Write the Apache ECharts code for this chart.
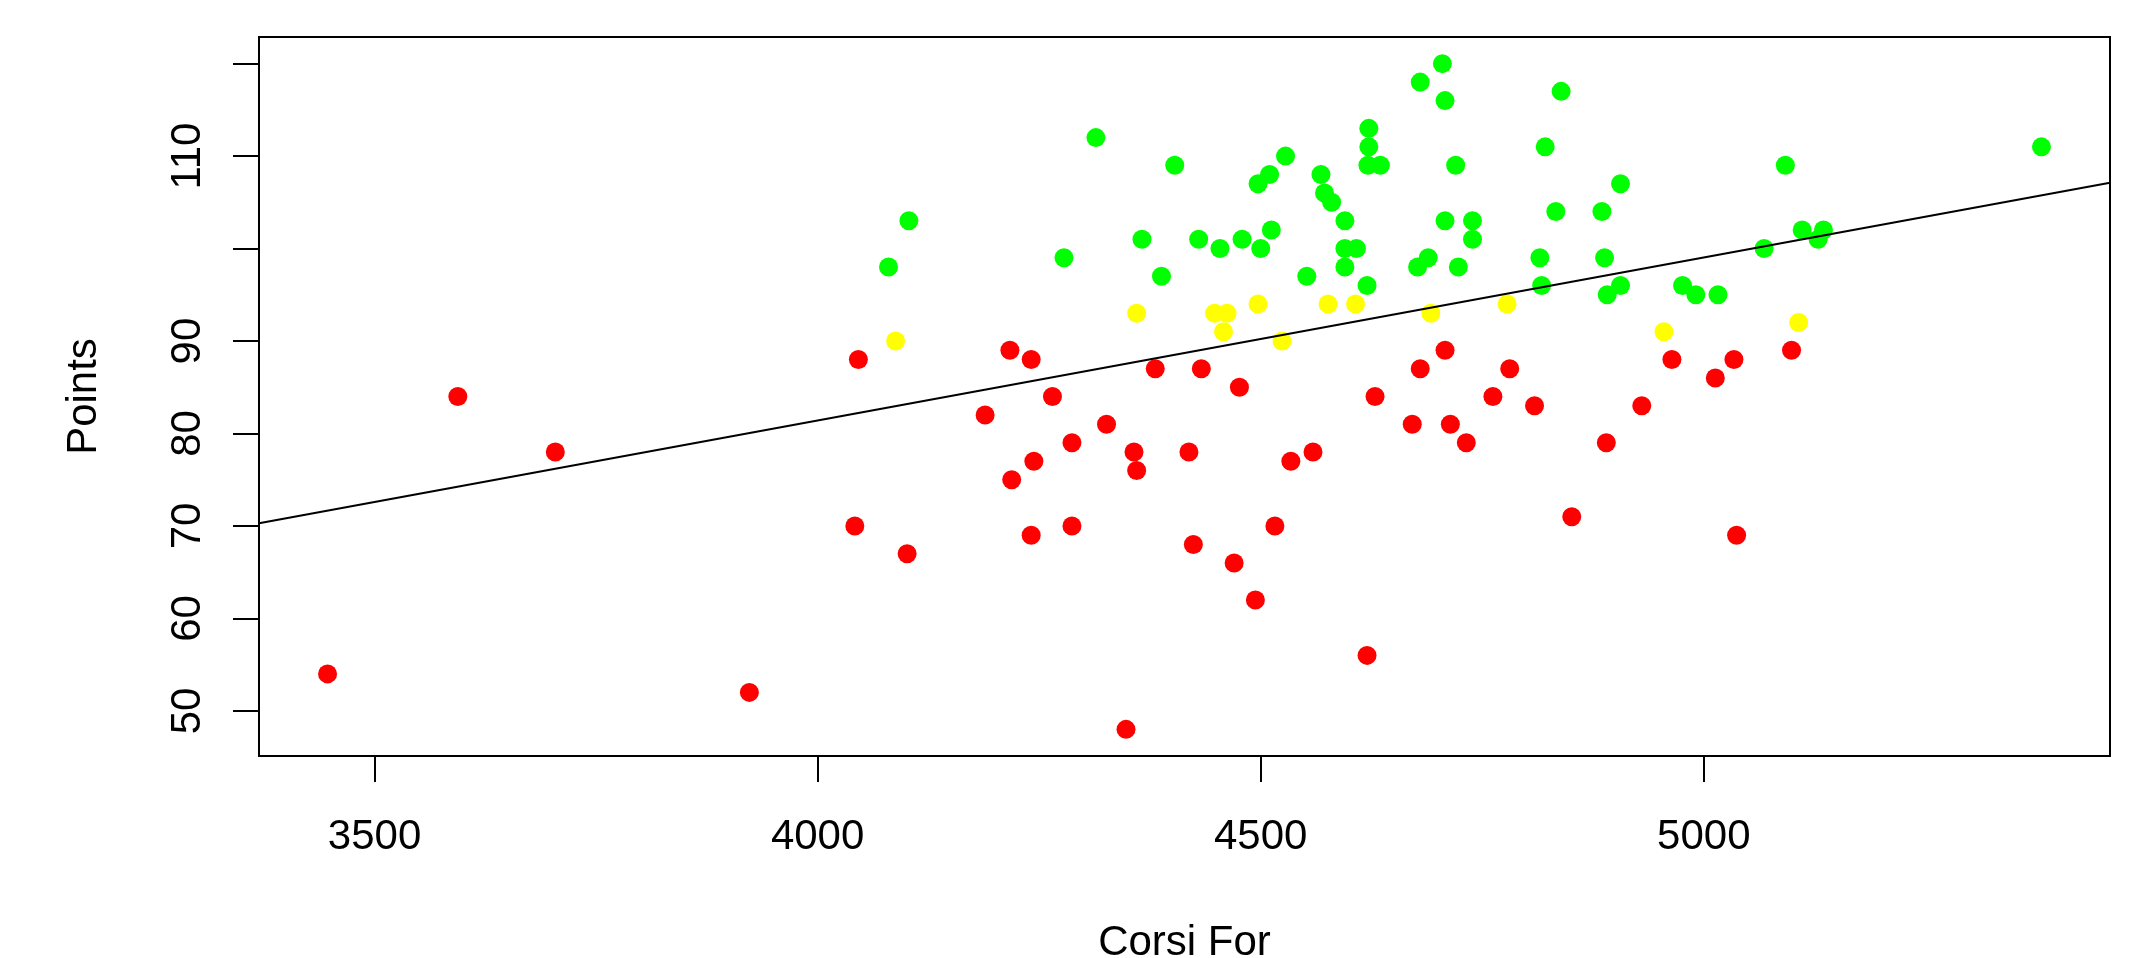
<!DOCTYPE html>
<html>
<head>
<meta charset="utf-8">
<script src="https://cdn.jsdelivr.net/npm/echarts@6/dist/echarts.min.js"></script>
<style>
html,body{margin:0;padding:0;background:#fff;}
#chart{width:2143px;height:958px;}
</style>
</head>
<body>
<div id="chart"></div>
<script>
// Corsi For (x) vs Points (y), grouped by points band
const redPoints = [
  [3447,54],[3594,84],[3704,78],[3923,52],[4046,88],[4042,70],[4101,67],[4189,82],
  [4217,89],[4241,88],[4219,75],[4244,77],[4241,69],[4265,84],[4287,79],[4287,70],
  [4326,81],[4348,48],[4357,78],[4360,76],[4381,87],[4419,78],[4424,68],[4433,87],
  [4470,66],[4476,85],[4494,62],[4516,70],[4534,77],[4559,78],[4620,56],[4629,84],
  [4671,81],[4680,87],[4708,89],[4714,81],[4732,79],[4762,84],[4781,87],[4809,83],
  [4851,71],[4890,79],[4930,83],[4964,88],[5013,86],[5034,88],[5037,69],[5099,89]
];
const yellowPoints = [
  [4088,90],[4360,93],[4448,93],[4462,93],[4458,91],[4497,94],[4524,90],[4576,94],
  [4607,94],[4692,93],[4778,94],[4955,91],[5107,92]
];
const greenPoints = [
  [4080,98],[4103,103],[4278,99],[4314,112],[4366,101],[4388,97],[4403,109],[4430,101],
  [4454,100],[4479,101],[4497,107],[4500,100],[4510,108],[4512,102],[4528,110],[4552,97],
  [4568,108],[4572,106],[4580,105],[4595,103],[4595,100],[4608,100],[4595,98],[4620,96],
  [4621,109],[4622,111],[4622,113],[4635,109],[4677,98],[4680,118],[4689,99],[4705,120],
  [4708,116],[4708,103],[4720,109],[4723,98],[4739,103],[4739,101],[4815,99],[4817,96],
  [4821,111],[4833,104],[4839,117],[4885,104],[4888,99],[4891,95],[4906,107],[4906,96],
  [4976,96],[4991,95],[5016,95],[5068,100],[5092,109],[5111,102],[5129,101],[5135,102],
  [5381,111]
];
const xTicks = [3500, 4000, 4500, 5000];
const yTicks = [50, 60, 70, 80, 90, 100, 110, 120];
const yTickLabels = [50, 60, 70, 80, 90, 110];
const xTitle = 'Corsi For';
const yTitle = 'Points';

// R-style axis ranges: data range extended by 4% on each side
const allPts = redPoints.concat(yellowPoints, greenPoints);
const xs = allPts.map(p => p[0]);
const ys = allPts.map(p => p[1]);
function padRange(arr) {
  const lo = Math.min.apply(null, arr), hi = Math.max.apply(null, arr);
  const r = hi - lo;
  return [lo - 0.04 * r, hi + 0.04 * r];
}
const [xMin, xMax] = padRange(xs);
const [yMin, yMax] = padRange(ys);

// least-squares fit (abline(lm(Points ~ CorsiFor)))
const n = allPts.length;
const mx = xs.reduce((a, b) => a + b, 0) / n;
const my = ys.reduce((a, b) => a + b, 0) / n;
let sxy = 0, sxx = 0;
for (let i = 0; i < n; i++) { sxy += (xs[i] - mx) * (ys[i] - my); sxx += (xs[i] - mx) * (xs[i] - mx); }
const slope = sxy / sxx;
const intercept = my - slope * mx;
const fitData = [[xMin, intercept + slope * xMin], [xMax, intercept + slope * xMax]];

const FONT = '"Liberation Sans", Arial, Helvetica, sans-serif';
const FS = 42;
const plain = v => String(Math.round(v));

const chart = echarts.init(document.getElementById('chart'), null, {renderer: 'canvas'});
chart.setOption({
  animation: false,
  backgroundColor: '#ffffff',
  grid: {
    left: 259, top: 37, width: 1851, height: 719,
    containLabel: false, outerBoundsMode: 'none',
    show: true, borderColor: '#000', borderWidth: 2, backgroundColor: 'transparent'
  },
  xAxis: {
    type: 'value', min: xMin, max: xMax,
    axisLine: {show: false},
    splitLine: {show: false},
    axisTick: {show: true, inside: false, length: 26, customValues: xTicks,
      lineStyle: {color: '#000', width: 2}},
    axisLabel: {customValues: xTicks, formatter: plain, margin: 60, fontSize: FS, color: '#000', fontFamily: FONT},
    name: xTitle, nameLocation: 'middle', nameGap: 166,
    nameTextStyle: {fontSize: FS, color: '#000', fontFamily: FONT}
  },
  yAxis: {
    type: 'value', min: yMin, max: yMax,
    axisLine: {show: false},
    splitLine: {show: false},
    axisTick: {show: true, inside: false, length: 26, customValues: yTicks,
      lineStyle: {color: '#000', width: 2}},
    axisLabel: {customValues: yTickLabels, formatter: plain, rotate: 90, margin: 50, fontSize: FS, color: '#000', fontFamily: FONT},
    name: yTitle, nameLocation: 'middle', nameGap: 154, nameRotate: 90,
    nameTextStyle: {fontSize: FS, color: '#000', fontFamily: FONT}
  },
  series: [
    {type: 'scatter', data: redPoints, symbol: 'circle', symbolSize: 19,
      itemStyle: {color: '#ff0000', opacity: 1}, z: 2, silent: true},
    {type: 'scatter', data: yellowPoints, symbol: 'circle', symbolSize: 19,
      itemStyle: {color: '#ffff00', opacity: 1}, z: 2, silent: true},
    {type: 'scatter', data: greenPoints, symbol: 'circle', symbolSize: 19,
      itemStyle: {color: '#00ff00', opacity: 1}, z: 2, silent: true},
    {type: 'line', data: fitData, showSymbol: false, symbol: 'none',
      lineStyle: {color: '#000', width: 2}, z: 5, silent: true}
  ]
});
</script>
</body>
</html>
